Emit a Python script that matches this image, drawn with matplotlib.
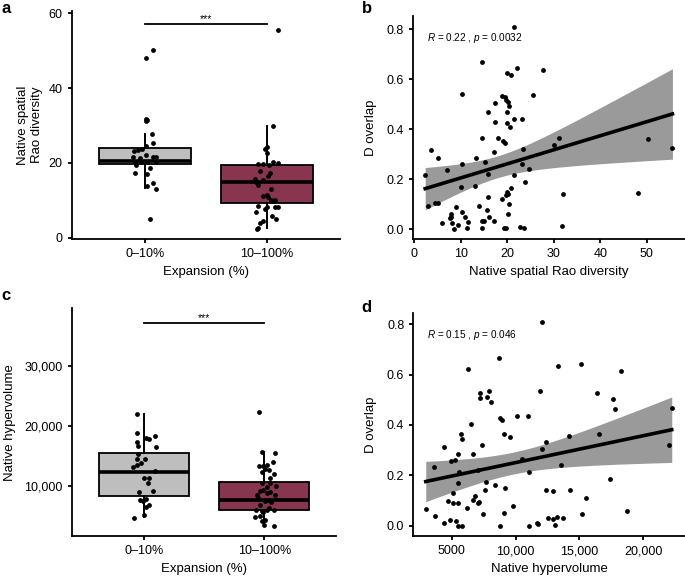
import numpy as np
import matplotlib
matplotlib.use('Agg')
import matplotlib.pyplot as plt

plt.rcParams['font.family'] = ['Liberation Sans', 'DejaVu Sans']
plt.rcParams['mathtext.fontset'] = 'custom'
plt.rcParams['mathtext.rm'] = 'Liberation Sans'
plt.rcParams['mathtext.it'] = 'Liberation Sans:italic'

groups = ['0–10%', '10–100%']
box_colors = ['#BEBEBE', '#88354F']

# panel a: native spatial Rao diversity per expansion class (jitter)
rao_low = [48.1, 50.2, 31.7, 31.5, 31.3, 27.7, 25.4, 24.5, 23.4, 23.2,
           23.6, 21.5, 22.1, 21.2, 21.5, 21.5, 20.1, 20.1, 20.1, 20.1,
           19.4, 18.5, 17.4, 17.0, 14.5, 13.8, 13.1, 5.1]
rao_low_jit = [0.005, 0.07, 0.005, 0.02, 0.01, 0.055, 0.07, 0.005, -0.06, -0.09,
               -0.02, -0.096, 0.005, -0.04, 0.07, 0.09, -0.08, -0.035, 0.014, 0.09,
               -0.07, 0.04, -0.08, 0.02, 0.063, 0.02, 0.09, 0.04]
rao_high = [55.5, 29.9, 24.3, 23.6, 22.7, 19.7, 19.7, 19.4, 20.3, 19.9,
            17.9, 17.2, 16.6, 15.6, 15.0, 15.4, 14.1, 12.9, 11.2, 11.4,
            10.8, 10.1, 9.9, 10.1, 8.5, 8.3, 8.1, 8.1, 7.0, 7.7,
            5.8, 5.1, 4.5, 3.9, 2.7, 2.2]
rao_high_jit = [0.088, 0.047, 0.0, -0.016, 0.005, -0.07, -0.035, 0.02, 0.05, 0.09,
                -0.057, 0.025, 0.01, -0.1, -0.085, -0.03, -0.07, 0.03, -0.03, 0.0,
                0.01, 0.033, 0.05, 0.068, -0.07, 0.0, 0.068, 0.09, -0.09, -0.016,
                0.04, 0.074, -0.03, -0.057, -0.07, -0.08]
# whislo, q1, median, q3, whishi
rao_box_low = [13.2, 19.7, 20.5, 24.1, 27.6]
rao_box_high = [2.5, 9.2, 14.8, 19.4, 29.9]
rao_sig_y = 57.1

# panel c: native hypervolume
hv_low = [21950, 18733, 17900, 17700, 18333, 17333, 16667, 16500, 15233, 14400,
          14450, 13833, 13167, 13450, 12500, 11333, 11200, 10400, 8950, 9167,
          7617, 7450, 7783, 6733, 6500, 5117, 4667]
hv_low_jit = [-0.06, -0.06, 0.02, 0.045, 0.09, -0.06, -0.05, 0.1, -0.05, -0.06,
              0.01, -0.02, -0.09, -0.055, 0.09, 0.0, 0.04, 0.03, -0.04, 0.075,
              -0.035, -0.005, 0.015, 0.045, 0.02, 0.0, -0.08]
hv_high = [22233, 15667, 15400, 13333, 13300, 13450, 13900, 12733, 12650, 12333,
           11900, 11233, 10500, 10400, 9733, 9900, 9117, 9283, 9000, 8450,
           8733, 8450, 7900, 7450, 7567, 7333, 6733, 5950, 5833, 5950,
           6233, 5950, 5667, 4733, 4950, 4283, 4117, 3333, 3450]
hv_high_jit = [-0.045, -0.015, 0.09, -0.04, -0.01, 0.02, 0.07, 0.005, 0.04, -0.02,
               0.08, 0.05, -0.015, 0.05, 0.02, 0.095, -0.035, -0.01, 0.045, -0.06,
               0.02, 0.09, -0.05, 0.005, 0.03, 0.06, -0.035, -0.07, -0.02, 0.02,
               0.04, 0.08, -0.01, -0.08, -0.035, 0.005, -0.02, 0.08, 0.0]
hv_box_low = [4833, 8233, 12283, 15500, 21950]
hv_box_high = [3567, 5900, 7667, 10567, 15667]
hv_sig_y = 37067

# panel b: D overlap vs Rao diversity
rao_x = [21.4, 14.6, 22.2, 19.9, 20.9, 27.8, 10.3, 25.5, 18.8, 19.5,
         19.8, 20.1, 20.5, 17.4, 15.8, 20.0, 21.5, 23.2, 17.3, 19.9,
         20.6, 14.6, 18.1, 19.1, 19.6, 3.7, 17.1, 23.5, 5.2, 13.3,
         15.3, 10.2, 23.2, 7.0, 15.8, 24.7, 2.4, 21.5, 23.9, 10.0,
         13.0, 20.9, 19.9, 20.2, 19.7, 18.9, 15.8, 20.4, 2.9, 4.4,
         5.1, 13.9, 15.6, 9.1, 20.1, 8.0, 10.3, 7.7, 8.0, 10.9,
         6.0, 8.2, 11.5, 14.6, 15.1, 16.1, 17.1, 9.5, 8.5, 11.4,
         14.7, 19.4, 19.7, 22.8, 23.6, 31.2, 30.1, 50.2, 55.5, 32.0,
         48.0, 31.8]
overlap_b = [0.810, 0.669, 0.645, 0.625, 0.617, 0.637, 0.539, 0.536, 0.531, 0.528,
             0.515, 0.507, 0.493, 0.505, 0.469, 0.467, 0.440, 0.440, 0.429, 0.423,
             0.407, 0.365, 0.365, 0.352, 0.343, 0.317, 0.307, 0.319, 0.284, 0.285,
             0.267, 0.261, 0.259, 0.235, 0.221, 0.241, 0.217, 0.217, 0.187, 0.169,
             0.172, 0.163, 0.149, 0.142, 0.136, 0.120, 0.129, 0.101, 0.091, 0.105,
             0.103, 0.091, 0.077, 0.089, 0.059, 0.062, 0.069, 0.045, 0.050, 0.048,
             0.023, 0.025, 0.027, 0.032, 0.032, 0.048, 0.032, 0.016, 0.001, 0.003,
             0.003, 0.003, 0.005, 0.009, 0.005, 0.365, 0.336, 0.359, 0.323, 0.139,
             0.143, 0.012]

# panel d: D overlap vs hypervolume
hv_x = [12070, 8700, 6300, 11890, 7220, 7240, 7740, 7950, 8050, 8760,
        8940, 10140, 11000, 6510, 5700, 9120, 9590, 5830, 7370, 4400,
        5520, 6690, 12050, 4920, 5260, 10530, 3640, 11050, 5520, 7690,
        7610, 8370, 5120, 9150, 6820, 6690, 7110, 7050, 4690, 5080,
        5490, 6180, 7430, 9800, 9070, 2970, 3670, 4380, 4840, 5340,
        5520, 5830, 8800, 11030, 11700, 11760, 13300, 15100, 18250, 16410,
        17600, 17810, 22230, 14190, 16510, 12420, 22050, 13520, 17370, 12370,
        12940, 14270, 15550, 15230, 18720, 12520, 12940, 13250, 13720, 13050,
        7030, 5570]
overlap_d = [0.808, 0.665, 0.621, 0.534, 0.526, 0.509, 0.513, 0.536, 0.490, 0.429,
             0.420, 0.437, 0.437, 0.404, 0.364, 0.363, 0.351, 0.343, 0.321, 0.314,
             0.284, 0.284, 0.306, 0.257, 0.260, 0.265, 0.234, 0.215, 0.168, 0.172,
             0.143, 0.161, 0.128, 0.150, 0.118, 0.102, 0.095, 0.090, 0.099, 0.089,
             0.089, 0.069, 0.048, 0.078, 0.052, 0.065, 0.040, 0.012, 0.023, 0.017,
             0.000, 0.000, 0.000, 0.000, 0.009, 0.005, 0.634, 0.641, 0.613, 0.527,
             0.502, 0.465, 0.466, 0.358, 0.363, 0.334, 0.319, 0.240, 0.185, 0.142,
             0.138, 0.142, 0.109, 0.048, 0.058, 0.032, 0.028, 0.033, 0.032, 0.004,
             0.220, 0.212]

cor_b = r'$R$ = 0.22 , $p$ = 0.0032'
cor_d = r'$R$ = 0.15 , $p$ = 0.046'


def style(ax):
    for s in ['top', 'right']:
        ax.spines[s].set_visible(False)
    for s in ['left', 'bottom']:
        ax.spines[s].set_linewidth(1.3)
    ax.tick_params(direction='out', length=3, width=1.3, labelsize=9, colors='black')


def boxpanel(ax, low, low_jit, high, high_jit, box_low, box_high, sig_y):
    stats = []
    for b in [box_low, box_high]:
        stats.append(dict(whislo=b[0], q1=b[1], med=b[2], q3=b[3], whishi=b[4], fliers=[]))
    bp = ax.bxp(stats, positions=[1, 2], widths=0.75, patch_artist=True,
                showcaps=False, showfliers=False,
                boxprops=dict(linewidth=1.3, edgecolor='black'),
                medianprops=dict(color='black', linewidth=2.6),
                whiskerprops=dict(color='black', linewidth=1.4))
    for patch, c in zip(bp['boxes'], box_colors):
        patch.set_facecolor(c)
    ax.scatter(1 + np.array(low_jit), low, s=12, color='black', zorder=3, lw=0)
    ax.scatter(2 + np.array(high_jit), high, s=12, color='black', zorder=3, lw=0)
    ax.plot([1, 2], [sig_y, sig_y], color='black', lw=1.3)
    ax.text(1.5, sig_y, '***', ha='center', va='bottom', fontsize=7.5)
    ax.set_xlim(0.4, 2.6)
    ax.set_xticks([1, 2])
    ax.set_xticklabels(groups)
    ax.set_xlabel('Expansion (%)', fontsize=9.5)
    style(ax)


def regpanel(ax, x, y, label_text, label_x, label_y):
    x = np.asarray(x, dtype=float)
    y = np.asarray(y, dtype=float)
    n = len(x)
    b1, b0 = np.polyfit(x, y, 1)
    xs = np.linspace(x.min(), x.max(), 100)
    fit = b0 + b1 * xs
    resid = y - (b0 + b1 * x)
    s = np.sqrt(np.sum(resid ** 2) / (n - 2))
    se = s * np.sqrt(1 / n + (xs - x.mean()) ** 2 / np.sum((x - x.mean()) ** 2))
    ax.fill_between(xs, fit - 1.99 * se, fit + 1.99 * se, color='#9A9A9A', lw=0, zorder=1)
    ax.scatter(x, y, s=12, color='black', zorder=2, lw=0)
    ax.plot(xs, fit, color='black', lw=2.6, zorder=3)
    ax.text(label_x, label_y, label_text, fontsize=7.2, va='center', ha='left')
    ax.set_ylabel('D overlap', fontsize=9.5, labelpad=7)
    ax.set_yticks([0, 0.2, 0.4, 0.6, 0.8])
    ax.set_yticklabels(['0.0', '0.2', '0.4', '0.6', '0.8'])
    style(ax)


fig = plt.figure(figsize=(6.85, 5.78), dpi=100)

ax_a = fig.add_axes([0.1047, 0.5865, 0.3917, 0.3945])
boxpanel(ax_a, rao_low, rao_low_jit, rao_high, rao_high_jit, rao_box_low, rao_box_high, rao_sig_y)
ax_a.set_ylim(-0.35, 60.6)
ax_a.set_yticks([0, 20, 40, 60])
ax_a.set_ylabel('Native spatial\nRao diversity', fontsize=9.5)

ax_c = fig.add_axes([0.1047, 0.0727, 0.3864, 0.394])
boxpanel(ax_c, hv_low, hv_low_jit, hv_high, hv_high_jit, hv_box_low, hv_box_high, hv_sig_y)
ax_c.set_ylim(1617, 39567)
ax_c.set_yticks([10000, 20000, 30000])
ax_c.set_yticklabels(['10,000', '20,000', '30,000'])
ax_c.set_ylabel('Native hypervolume', fontsize=9.5, labelpad=6)

ax_b = fig.add_axes([0.6025, 0.5865, 0.3975, 0.3858])
regpanel(ax_b, rao_x, overlap_b, cor_b, 2.7, 0.765)
ax_b.set_xlim(-0.28, 58.2)
ax_b.set_ylim(-0.04, 0.852)
ax_b.set_xticks([0, 10, 20, 30, 40, 50])
ax_b.set_xlabel('Native spatial Rao diversity', fontsize=9.5)

ax_d = fig.add_axes([0.6034, 0.0727, 0.3966, 0.3863])
regpanel(ax_d, hv_x, overlap_d, cor_d, 3050, 0.757)
ax_d.set_xlim(1996, 23268)
ax_d.set_ylim(-0.041, 0.846)
ax_d.set_xticks([5000, 10000, 15000, 20000])
ax_d.set_xticklabels(['5000', '10,000', '15,000', '20,000'])
ax_d.set_xlabel('Native hypervolume', fontsize=9.5)

for lab, x, y in [('a', 0.002, 0.985), ('b', 0.528, 0.985), ('c', 0.002, 0.488), ('d', 0.528, 0.468)]:
    fig.text(x, y, lab, fontsize=12, fontweight='bold', va='center', ha='left')

fig.savefig('out.png', dpi=100)
